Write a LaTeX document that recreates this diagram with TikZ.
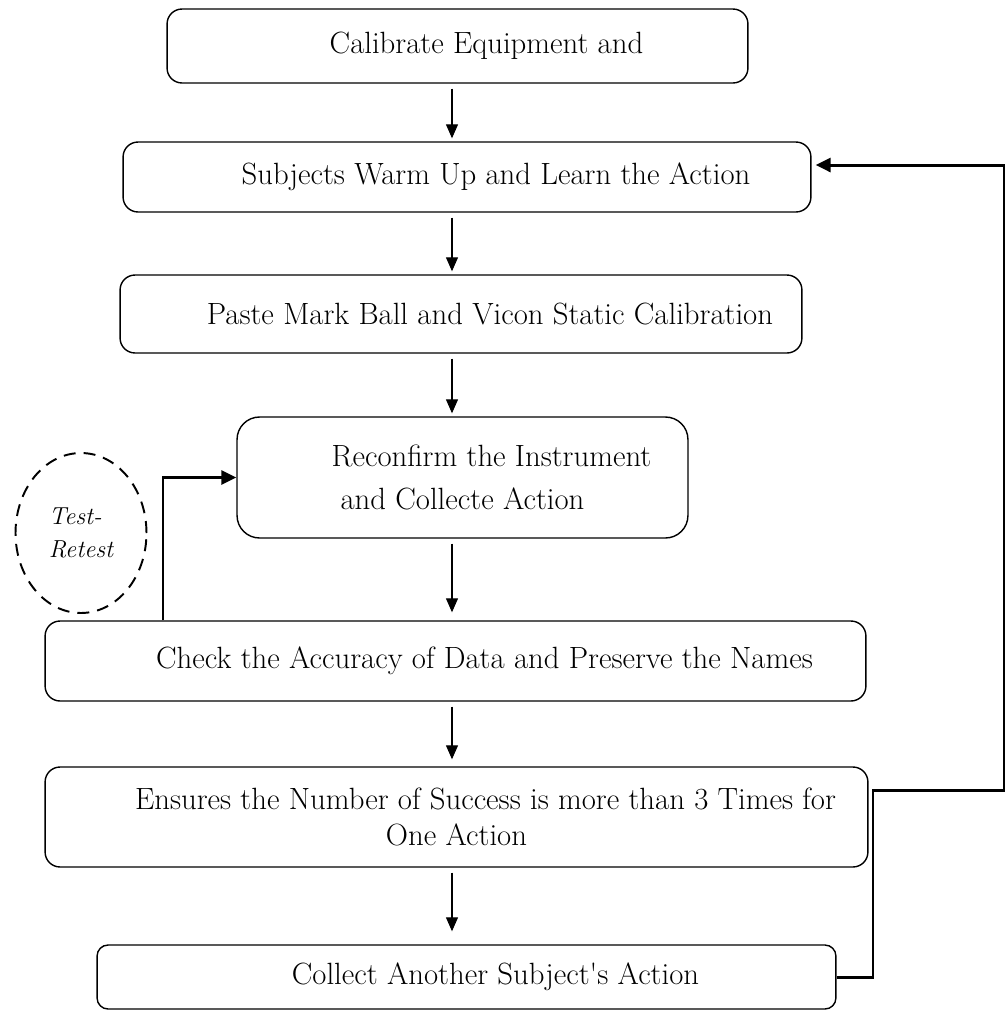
\documentclass[tikz,border=0pt]{standalone}
\usepackage{tikz}
\usetikzlibrary{positioning,shapes.geometric,arrows.meta,calc}
\newcommand{\firstind}{\hspace*{1.16cm}}

\begin{document}
\begin{tikzpicture}[x=0.02cm,y=-0.02cm,
                    stage/.style={draw,rounded corners=0.3cm,line width=0.8pt,
                                  align=center,inner sep=2pt,
                                  font=\fontsize{17.5}{20}\selectfont},
                    flow/.style={-{Triangle[length=0.28cm,width=0.24cm]},line width=0.6pt,
                                 shorten <=0.1cm,shorten >=0.06cm},
                    back line/.style={-{Triangle[length=0.3cm,width=0.28cm]},line width=1.7pt}
                   ]
   \useasboundingbox (0,0) rectangle (1008,1012);

   \node[stage,minimum width=11.62cm,minimum height=1.48cm] (calib) at (457.5,46)
        {\firstind Calibrate Equipment and};
   \node[stage,minimum width=13.76cm,minimum height=1.4cm] (warmup) at (467,177)
        {\firstind Subjects Warm Up and Learn the Action};
   \node[stage,minimum width=13.64cm,minimum height=1.56cm] (paste) at (461,314)
        {\firstind Paste Mark Ball and Vicon Static Calibration};
   \node[stage,rounded corners=0.45cm,minimum width=9.02cm,minimum height=2.42cm] (reconf) at (462.5,477.5)
        {\firstind Reconfirm the Instrument\\[0.15cm] and Collecte Action};
   \node[stage,minimum width=16.42cm,minimum height=1.6cm] (check) at (455.5,661)
        {\firstind Check the Accuracy of Data and Preserve the Names};
   \node[stage,minimum width=16.46cm,minimum height=2.0cm] (ensure) at (456.5,817)
        {\firstind Ensures the Number of Success is more than 3 Times for\\One Action};
   \node[stage,rounded corners=0.22cm,minimum width=14.78cm,minimum height=1.28cm] (collect) at (466.5,977)
        {\firstind Collect Another Subject\textquotesingle s Action};

   \node[draw,ellipse,line width=1.1pt,dash pattern=on 0.24cm off 0.16cm,
         minimum width=2.62cm,minimum height=3.2cm,align=left,
         font=\itshape\fontsize{14}{19}\selectfont] (retest) at (81,533) {Test-\\Retest};

   % main flow
   \coordinate (spine) at (452,0);
   \draw[flow] (calib.south -| spine) -- (warmup.north -| spine);
   \draw[flow] (warmup.south -| spine) -- (paste.north -| spine);
   \draw[flow] (paste.south -| spine) -- (reconf.north -| spine);
   \draw[flow,shorten >=0.16cm] (reconf.south -| spine) -- (check.north -| spine);
   \draw[flow,shorten >=0.14cm] (check.south -| spine) -- (ensure.north -| spine);
   \draw[flow,shorten >=0.26cm] (ensure.south -| spine) -- (collect.north -| spine);

   % test-retest loop
   \coordinate (retline) at (163,0);
   \draw[back line] (check.north -| retline) |- (reconf.west);

   % next subject
   \coordinate (fb1) at (873,790);
   \coordinate (fb2) at (1004,165);
   \draw[back line,shorten >=0.08cm] (collect.east) -| (fb1) -| (fb2) -- (fb2 -| warmup.east);
\end{tikzpicture}
\end{document}
